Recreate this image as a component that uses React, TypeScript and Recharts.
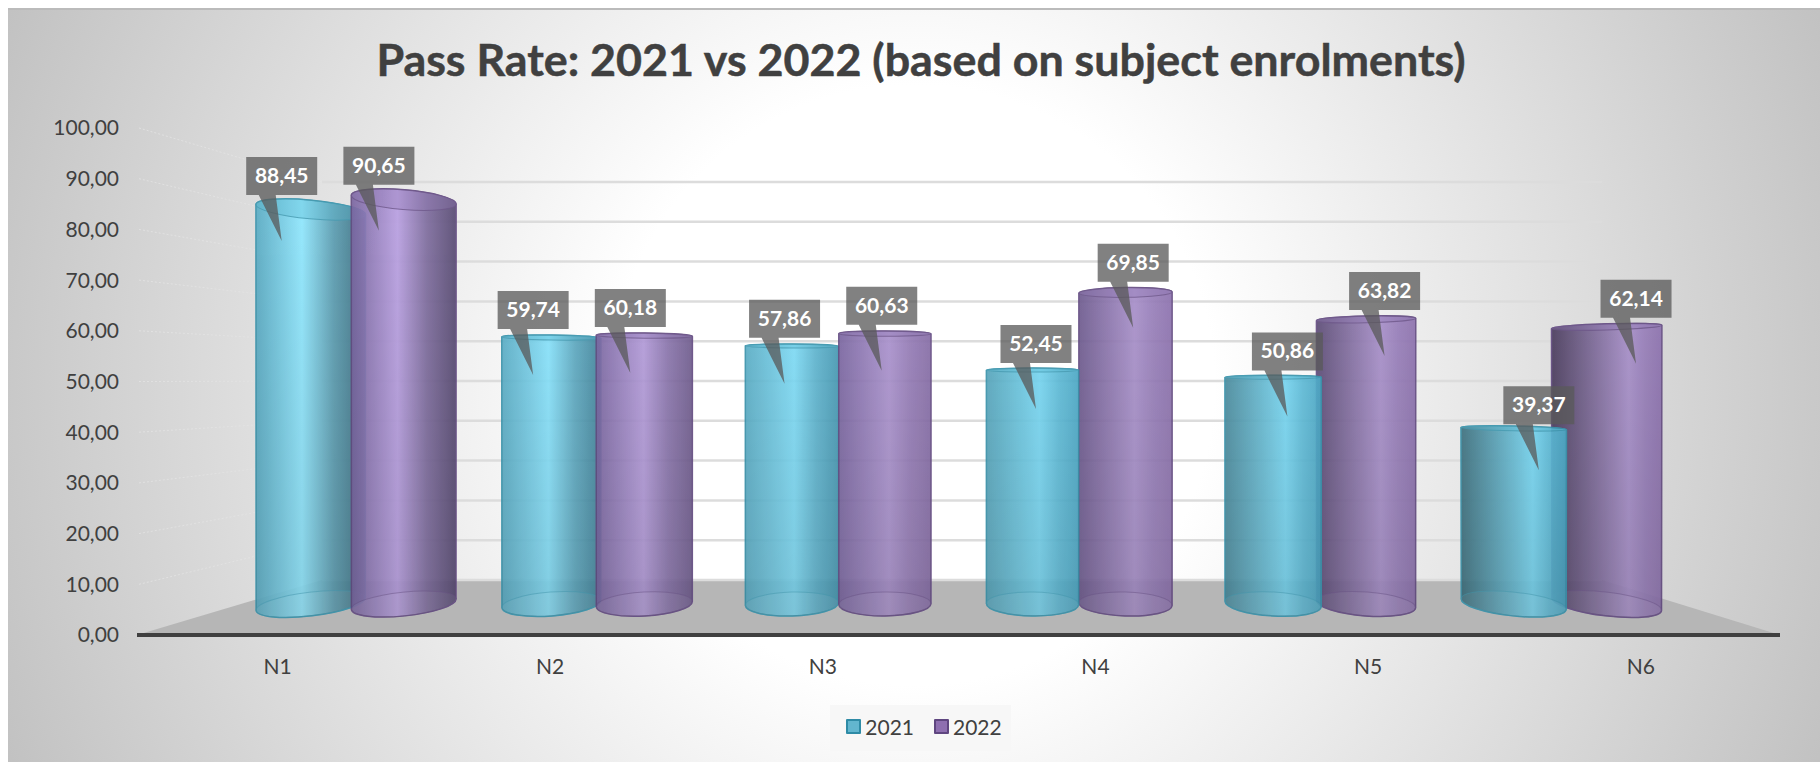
import React from 'react';
import { BarChart, Bar, XAxis, YAxis, CartesianGrid, Legend, LabelList } from 'recharts';

const categories = ['N1', 'N2', 'N3', 'N4', 'N5', 'N6'];
const pass2021 = [88.45, 59.74, 57.86, 52.45, 50.86, 39.37];
const pass2022 = [90.65, 60.18, 60.63, 69.85, 63.82, 62.14];
const valueTicks = [0, 10, 20, 30, 40, 50, 60, 70, 80, 90, 100];

const chartData = categories.map((name, i) => ({ name, y2021: pass2021[i], y2022: pass2022[i] }));

const WIDTH = 1812;
const HEIGHT = 754;
const PLOT = { left: 129, right: 1772, top: 120, bottom: 627 };

// fake 3D room: back wall and floor corners
const WALL = { left: 314, right: 1594, floorY: 572, unit: 3.98 };
const FRONT_UNIT = (PLOT.bottom - PLOT.top) / 100;

// eye level and vanishing centre used to tilt the cylinder ends
const HORIZON_Y = 375;
const CENTER_X = 947;
const FIRST_FRONT_2021 = 3; // from N4 on, 2021 sits in front of 2022

const PALETTES = {
  blue: {
    leftNear: '#5aacc4', leftFar: '#3a6673',
    rightNear: '#4ca7c4', rightFar: '#3a6c7e',
    hiNear: '#90e8ff', hiFar: '#76d4ef',
    stroke: '#3a93ab', cap: '#4fb4cf',
  },
  purple: {
    leftNear: '#7a66a0', leftFar: '#4b3d5e',
    rightNear: '#8d72ae', rightFar: '#4e4468',
    hiNear: '#bca3e6', hiFar: '#a78fc9',
    stroke: '#644c82', cap: '#8a6fb0',
  },
};

const hex = (c: string) => [1, 3, 5].map((i) => parseInt(c.slice(i, i + 2), 16));
const mix = (a: string, b: string, t: number) => {
  const [ca, cb] = [hex(a), hex(b)];
  const out = ca.map((v, i) => Math.round(v + (cb[i] - v) * t).toString(16).padStart(2, '0'));
  return `#${out.join('')}`;
};
const formatValue = (v: number) => v.toFixed(2).replace('.', ',');

function Cylinder({ x, y, width, height, index, palette, hidden }: any) {
  if (hidden) return <g />;
  const p = PALETTES[palette as 'blue' | 'purple'];
  const cx = x + width / 2;
  const off = cx - CENTER_X;
  const s = Math.max(-1, Math.min(1, off / 650));
  const rx = (width * (1 + 0.17 * (off / 600) ** 2)) / 2;
  const bottom = y + height;

  const end = (yc: number) => {
    const deg = off * (yc - HORIZON_Y) * 4.77e-5;
    const rad = (deg * Math.PI) / 180;
    return {
      deg,
      ry: Math.max(2, 0.054 * Math.abs(yc - HORIZON_Y)),
      lx: cx - rx * Math.cos(rad),
      ly: yc - rx * Math.sin(rad),
      rxp: cx + rx * Math.cos(rad),
      ryp: yc + rx * Math.sin(rad),
    };
  };
  const top = end(y);
  const base = end(bottom);

  const body =
    `M${top.lx},${top.ly} A${rx},${top.ry} ${top.deg} 0 1 ${top.rxp},${top.ryp} ` +
    `L${base.rxp},${base.ryp} A${rx},${base.ry} ${base.deg} 0 1 ${base.lx},${base.ly} Z`;

  const gid = `cyl-${palette}-${index}`;
  const left = mix(p.leftNear, p.leftFar, Math.max(0, s));
  const right = mix(p.rightNear, p.rightFar, Math.max(0, -s));
  const hi = mix(p.hiNear, p.hiFar, Math.min(1, s + 1));
  const hiAt = 0.56 + 0.14 * s;

  return (
    <g opacity={0.92}>
      <defs>
        <linearGradient id={gid} x1="0" y1="0" x2="1" y2="0">
          <stop offset="0" stopColor={left} />
          <stop offset={hiAt * 0.45} stopColor={mix(left, hi, 0.45)} />
          <stop offset={hiAt} stopColor={hi} />
          <stop offset={hiAt + (1 - hiAt) * 0.5} stopColor={mix(hi, right, 0.6)} />
          <stop offset="1" stopColor={right} />
        </linearGradient>
      </defs>
      <path d={body} fill={`url(#${gid})`} stroke={p.stroke} strokeWidth={1.5} />
      <path d={body} fill="url(#cylFade)" />
      <ellipse
        cx={cx} cy={y} rx={rx} ry={top.ry}
        transform={`rotate(${top.deg} ${cx} ${y})`}
        fill={p.cap} fillOpacity={0.35} stroke={p.stroke} strokeOpacity={0.8} strokeWidth={1}
      />
      <ellipse
        cx={cx} cy={bottom} rx={rx} ry={base.ry}
        transform={`rotate(${base.deg} ${cx} ${bottom})`}
        fill="#ffffff" fillOpacity={0.05} stroke={p.stroke} strokeOpacity={0.5} strokeWidth={1}
      />
    </g>
  );
}

function Callout({ x, y, width, value, index, hidden }: any) {
  if (hidden || value == null) return null;
  const cx = x + width / 2;
  const bx = cx + (cx - CENTER_X) * 0.045;
  const by = y - 15 - 0.21 * value;
  const boxW = 71;
  const boxH = 38;
  const bottom = by + boxH / 2;
  return (
    <g key={index}>
      <path
        d={`M${bx - boxW / 2},${by - boxH / 2} h${boxW} v${boxH} H${bx - 6} L${bx},${bottom + 46} L${bx - 23},${bottom} H${bx - boxW / 2} Z`}
        fill="#595959"
        fillOpacity={0.76}
      />
      <text x={bx} y={by + 7} textAnchor="middle" fill="#ffffff" fontSize={21} fontWeight={700} fontFamily="Lato">
        {formatValue(value)}
      </text>
    </g>
  );
}

function LegendBox({ payload }: any) {
  const colors: Record<string, [string, string]> = {
    '2021': ['#62b6cf', '#2e8ba6'],
    '2022': ['#8e6fb0', '#5f4680'],
  };
  // 2021 is registered twice because of the draw-order split
  const names: string[] = Array.from(new Set((payload || []).map((item: any) => item.value)));
  return (
    <div
      style={{
        display: 'flex', alignItems: 'center', justifyContent: 'center', gap: 20,
        width: 181, height: 46, background: '#f7f7f7', boxSizing: 'border-box',
        paddingLeft: 7, paddingBottom: 3,
        fontFamily: 'Lato', fontSize: 21, color: '#404040',
      }}
    >
      {names.map((name) => (
        <span key={name} style={{ display: 'flex', alignItems: 'center', gap: 4 }}>
          <span
            style={{
              width: 11, height: 11, borderRadius: 1,
              background: colors[name][0], border: `2px solid ${colors[name][1]}`,
            }}
          />
          {name}
        </span>
      ))}
    </div>
  );
}

// floor plate and the dotted side-wall lines, painted under the chart
function Room() {
  return (
    <svg width={WIDTH} height={HEIGHT} style={{ position: 'absolute', left: 0, top: 0 }}>
      <polygon
        points={`${PLOT.left},${PLOT.bottom} ${WALL.left},${WALL.floorY} ${WALL.right},${WALL.floorY} ${PLOT.right},${PLOT.bottom}`}
        fill="#b6b6b6"
      />
      {valueTicks.slice(1).map((v) => (
        <line
          key={v}
          x1={PLOT.left + 2}
          y1={PLOT.bottom - v * FRONT_UNIT}
          x2={WALL.left}
          y2={WALL.floorY - v * WALL.unit}
          stroke="#e3e3e3"
          strokeOpacity={0.8}
          strokeWidth={1}
          strokeDasharray="2 2"
        />
      ))}
    </svg>
  );
}

export default function App() {
  return (
    <div
      style={{
        position: 'absolute', left: 8, top: 8, width: WIDTH, height: HEIGHT, overflow: 'hidden',
        background: 'radial-gradient(circle 1000px at 50% 50%, #ffffff 0%, #ffffff 30%, #c0c0c0 100%)',
      }}
    >
      <div style={{ position: 'absolute', left: 0, top: 0, width: WIDTH, height: 2, background: '#bbbbbb' }} />
      <Room />
      <div style={{ position: 'absolute', left: 0, top: 0 }}>
        <BarChart
          width={WIDTH}
          height={HEIGHT}
          data={chartData}
          margin={{ top: PLOT.top, right: WIDTH - PLOT.right, left: 0, bottom: 41 }}
        >
          <defs>
            <linearGradient id="cylFade" x1="0" y1="0" x2="0" y2="1">
              <stop offset="0" stopColor="#000000" stopOpacity={0} />
              <stop offset="1" stopColor="#000000" stopOpacity={0.1} />
            </linearGradient>
          </defs>
          <text
            x={913} y={68} textAnchor="middle" fill="#404040" stroke="#404040" strokeWidth={0.5}
            fontSize={44.8} fontWeight={700} fontFamily="Lato"
          >
            Pass Rate: 2021 vs 2022 (based on subject enrolments)
          </text>

          <YAxis
            yAxisId="labels"
            width={PLOT.left}
            domain={[0, 100]}
            allowDataOverflow
            ticks={valueTicks}
            tickFormatter={formatValue}
            axisLine={false}
            tickLine={false}
            tickSize={0}
            tickMargin={18}
            tick={{ fill: '#404040', fontSize: 21, fontFamily: 'Lato' }}
          />
          <YAxis yAxisId="wall" hide width={0} allowDataOverflow domain={[-13.82, 113.57]} ticks={valueTicks} />
          <YAxis yAxisId="bars" hide width={0} allowDataOverflow domain={[-6.95, 106.73]} />

          <XAxis
            xAxisId="names"
            dataKey="name"
            height={40}
            padding={{ left: 4.2, right: 2.9 }}
            tickLine={false}
            tickSize={0}
            tickMargin={24}
            axisLine={{ stroke: '#404040', strokeWidth: 4 }}
            tick={{ fill: '#404040', fontSize: 21, fontFamily: 'Lato' }}
          />
          <XAxis xAxisId="a" hide height={0} dataKey="name" padding={{ left: 53.7, right: 145.7 }} />
          <XAxis xAxisId="b" hide height={0} dataKey="name" padding={{ left: 146.7, right: 52.7 }} />
          <XAxis xAxisId="c" hide height={0} dataKey="name" padding={{ left: 53.7, right: 145.7 }} />

          <CartesianGrid
            xAxisId="names"
            yAxisId="wall"
            x={WALL.left}
            width={WALL.right - WALL.left}
            vertical={false}
            syncWithTicks
            stroke="#dcdcdc"
            strokeWidth={2.5}
          />

          <Legend
            content={<LegendBox />}
            wrapperStyle={{ left: 822, top: 697, width: 181, height: 46 }}
          />

          <Bar
            xAxisId="a"
            yAxisId="bars"
            dataKey="y2021"
            name="2021"
            barSize={92}
            fill="#62b6cf"
            isAnimationActive={false}
            shape={(props: any) => <Cylinder {...props} palette="blue" hidden={props.index >= FIRST_FRONT_2021} />}
          >
            <LabelList
              dataKey="y2021"
              content={(props: any) => <Callout {...props} hidden={props.index >= FIRST_FRONT_2021} />}
            />
          </Bar>
          <Bar
            xAxisId="b"
            yAxisId="bars"
            dataKey="y2022"
            name="2022"
            barSize={92}
            fill="#8e6fb0"
            isAnimationActive={false}
            shape={(props: any) => <Cylinder {...props} palette="purple" />}
          >
            <LabelList dataKey="y2022" content={(props: any) => <Callout {...props} />} />
          </Bar>
          <Bar
            xAxisId="c"
            yAxisId="bars"
            dataKey="y2021"
            name="2021"
            legendType="none"
            barSize={92}
            fill="#62b6cf"
            isAnimationActive={false}
            shape={(props: any) => <Cylinder {...props} palette="blue" hidden={props.index < FIRST_FRONT_2021} />}
          >
            <LabelList
              dataKey="y2021"
              content={(props: any) => <Callout {...props} hidden={props.index < FIRST_FRONT_2021} />}
            />
          </Bar>
        </BarChart>
      </div>
    </div>
  );
}
